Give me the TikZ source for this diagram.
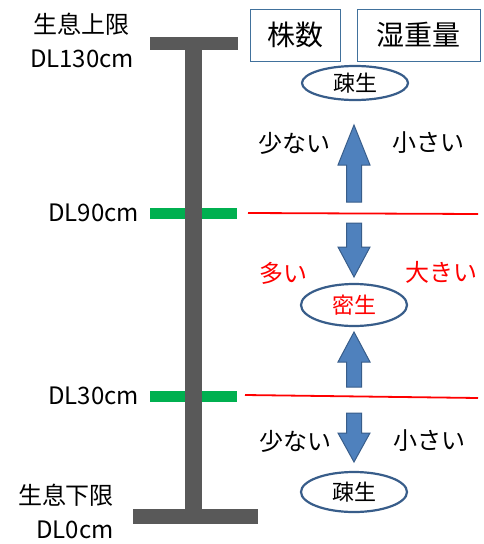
\documentclass[tikz,border=0pt]{standalone}
\usepackage{fontspec}
\setmainfont{Noto Sans CJK JP}
\usetikzlibrary{shapes.geometric}
\definecolor{bargray}{HTML}{595959}
\definecolor{lvgreen}{HTML}{00B050}
\definecolor{arrfill}{HTML}{4F81BD}
\definecolor{arredge}{HTML}{385D8A}
\definecolor{boxedge}{HTML}{41719C}
\newcommand\blkarrow[4]{% x, tip y, head base y, tail y
  \filldraw[blockarrow] (#1-7.5,#4) -- (#1-7.5,#3) -- (#1-16,#3) -- (#1,#2) -- (#1+16,#3) -- (#1+7.5,#3) -- (#1+7.5,#4) -- cycle;}
\tikzset{
  blockarrow/.style={fill=arrfill, draw=arredge, line width=1pt, line join=miter},
  bar/.style={fill=bargray, draw=none},
  greenbar/.style={fill=lvgreen, draw=none},
  redline/.style={draw=red, line width=1.8pt},
  lbl/.style={font=\fontsize{24}{26}\selectfont, inner sep=0pt},
  hdr/.style={draw=boxedge, line width=1pt, font=\fontsize{28}{30}\selectfont, inner sep=0pt, minimum height=52pt},
  oval/.style={ellipse, draw=arredge, line width=2.2pt, inner sep=0pt, minimum width=106pt, font=\fontsize{22}{24}\selectfont},
}
\begin{document}
\begin{tikzpicture}[x=1pt,y=-1pt]
\useasboundingbox (0,0) rectangle (483,544);
% vertical scale
\fill[bar] (185,38) rectangle (202,516);
\fill[bar] (150,37) rectangle (238,50);
\fill[bar] (133,509) rectangle (258,524);
\fill[greenbar] (150,208) rectangle (237,219);
\fill[greenbar] (150,391) rectangle (237,402);
\fill[bar] (185,205) rectangle (202,222);
\fill[bar] (185,388) rectangle (202,405);
% red lines
\coordinate (r1a) at (248,213);
\coordinate (r1b) at (478,214);
\coordinate (r2a) at (245,395);
\coordinate (r2b) at (478,398);
\draw[redline] (r1a) -- (r1b);
\draw[redline] (r2a) -- (r2b);
% left labels
\node[lbl] (top1) at (82,24) {生息上限};
\node[lbl] (top2) at (82,59) {DL130cm};
\node[lbl, anchor=east] (d90) at (139,213) {DL90cm};
\node[lbl, anchor=east] (d30) at (139,396) {DL30cm};
\node[lbl] (bot1) at (66,495) {生息下限};
\node[lbl] (bot2) at (75,530) {DL0cm};
% header boxes
\node[hdr, minimum width=90pt] (kabu) at (295,35) {株数};
\node[hdr, minimum width=123pt] (shitsu) at (418.5,35) {湿重量};
% ellipses
\node[oval, minimum height=34pt] (sosei1) at (355,83) {疎生};
\node[oval, minimum height=42pt, text=red] (missei) at (354,305) {密生};
\node[oval, minimum height=40pt] (sosei2) at (354,492) {疎生};
% arrows
\blkarrow{354}{125}{165}{202}
\blkarrow{354}{277}{247}{223}
\blkarrow{354}{332}{362}{387}
\blkarrow{354}{462}{433}{413}
% side labels
\node[lbl] (few1) at (294,143) {少ない};
\node[lbl] (small1) at (428,143) {小さい};
\node[lbl, text=red] (many) at (283,273) {多い};
\node[lbl, text=red] (large) at (441,272) {大きい};
\node[lbl] (few2) at (295,441) {少ない};
\node[lbl] (small2) at (429,441) {小さい};
\end{tikzpicture}
\end{document}
